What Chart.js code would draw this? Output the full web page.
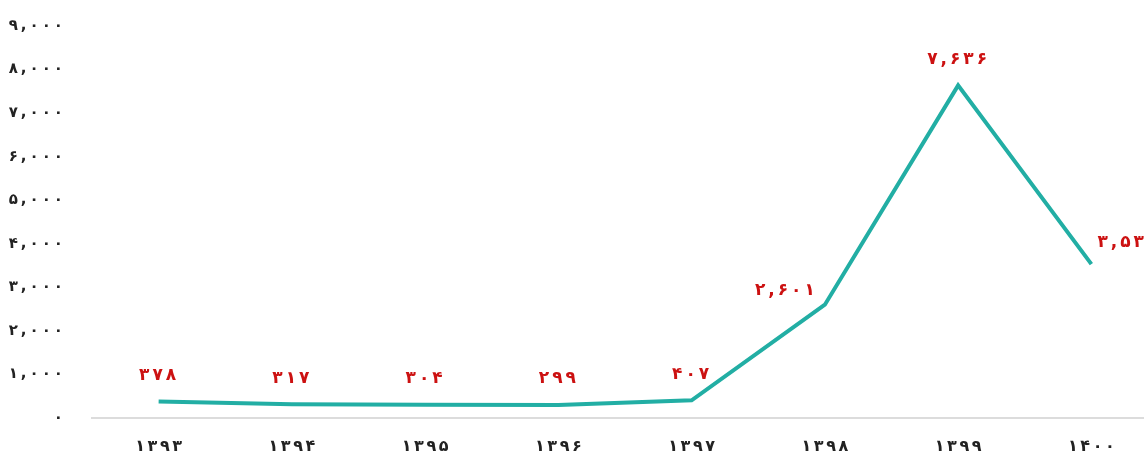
<!DOCTYPE html>
<html>
<head>
<meta charset="utf-8">
<script src="https://cdn.jsdelivr.net/npm/chart.js@4/dist/chart.umd.min.js"></script>
<style>
  html, body { margin: 0; padding: 0; background: #fff; overflow: hidden; }
  #wrap { width: 1158px; height: 470px; position: relative; }
</style>
</head>
<body>
<div id="wrap"><canvas id="c" width="1158" height="470"></canvas></div>
<script>
// ---- data ----
const categories = [1393, 1394, 1395, 1396, 1397, 1398, 1399, 1400];
const values = [378, 317, 304, 299, 407, 2601, 7636, 3533];
const yTicks = [0, 1000, 2000, 3000, 4000, 5000, 6000, 7000, 8000, 9000];

// ---- helpers ----
const faDigits = ['۰','۱','۲','۳','۴','۵','۶','۷','۸','۹'];
function toFa(str) { return String(str).replace(/[0-9]/g, d => faDigits[+d]); }
function fmt(n) { return toFa(n.toLocaleString('en-US')); }

// draw text with extra spacing between characters
function drawSpaced(ctx, text, x, y, spacing, align) {
  const chars = Array.from(text);
  const widths = chars.map(c => ctx.measureText(c).width);
  const total = widths.reduce((a, b) => a + b, 0) + spacing * (chars.length - 1);
  let cx = align === 'center' ? x - total / 2 : align === 'right' ? x - total : x;
  ctx.textAlign = 'left';
  chars.forEach((c, i) => { ctx.fillText(c, cx, y); cx += widths[i] + spacing; });
}

// axis tick labels, positioned by the chart's own scales
const tickLabelPlugin = {
  id: 'tickLabels',
  afterDraw(chart, args, opts) {
    const ctx = chart.ctx;
    const xs = chart.scales.x, ys = chart.scales.y;
    ctx.save();
    ctx.textBaseline = 'middle';
    ctx.fillStyle = opts.color;
    ctx.font = opts.yFont;
    ys.ticks.forEach(t => {
      drawSpaced(ctx, fmt(t.value), ys.right - opts.yPad, ys.getPixelForValue(t.value), opts.ySpacing, 'right');
    });
    ctx.font = opts.xFont;
    xs.ticks.forEach((t, i) => {
      drawSpaced(ctx, xs.getLabelForValue(t.value), xs.getPixelForTick(i), xs.bottom + opts.xPad, opts.xSpacing, 'center');
    });
    ctx.restore();
  }
};

const valueLabelPlugin = {
  id: 'valueLabels',
  afterDatasetsDraw(chart, args, opts) {
    const ctx = chart.ctx;
    const meta = chart.getDatasetMeta(0);
    ctx.save();
    ctx.font = opts.font;
    ctx.fillStyle = opts.color;
    ctx.textBaseline = 'middle';
    meta.data.forEach((pt, i) => {
      const v = chart.data.datasets[0].data[i];
      const a = opts.align[i] || 'top';
      let dx = -1, dy = -26;
      if (a === 'left-top') { dx = -40; dy = -14; }
      if (a === 'right-top') { dx = 36; dy = -22; }
      drawSpaced(ctx, fmt(v), pt.x + dx, pt.y + dy, opts.spacing, 'center');
    });
    ctx.restore();
  }
};

new Chart(document.getElementById('c'), {
  type: 'line',
  data: {
    labels: categories.map(c => toFa(c)),
    datasets: [{
      data: values,
      borderColor: '#22aea4',
      borderWidth: 4,
      pointRadius: 0,
      tension: 0,
      fill: false,
      borderJoinStyle: 'miter'
    }]
  },
  options: {
    responsive: false,
    animation: false,
    devicePixelRatio: 1,
    layout: { padding: { top: 26, left: 8, right: 0, bottom: 44 } },
    plugins: {
      legend: { display: false },
      tooltip: { enabled: false },
      valueLabels: {
        font: 'bold 17px "DejaVu Sans"',
        color: '#cc1111',
        spacing: 3,
        align: ['top','top','top','top','top','left-top','top','right-top']
      },
      tickLabels: {
        color: '#222',
        yFont: 'bold 15px "DejaVu Sans"',
        ySpacing: 3,
        yPad: 29,
        xFont: 'bold 16px "DejaVu Sans"',
        xSpacing: 2.5,
        xPad: 21
      }
    },
    scales: {
      x: {
        offset: true,
        grid: { display: false },
        border: { display: true, color: '#dcdcdc', width: 2 },
        ticks: { display: false }
      },
      y: {
        min: 0,
        max: 9000,
        afterBuildTicks(axis) { axis.ticks = yTicks.map(v => ({ value: v })); },
        afterFit(axis) { axis.width = 84; },
        grid: { display: false },
        border: { display: false },
        ticks: { display: false }
      }
    }
  },
  plugins: [valueLabelPlugin, tickLabelPlugin]
});
</script>
</body>
</html>
